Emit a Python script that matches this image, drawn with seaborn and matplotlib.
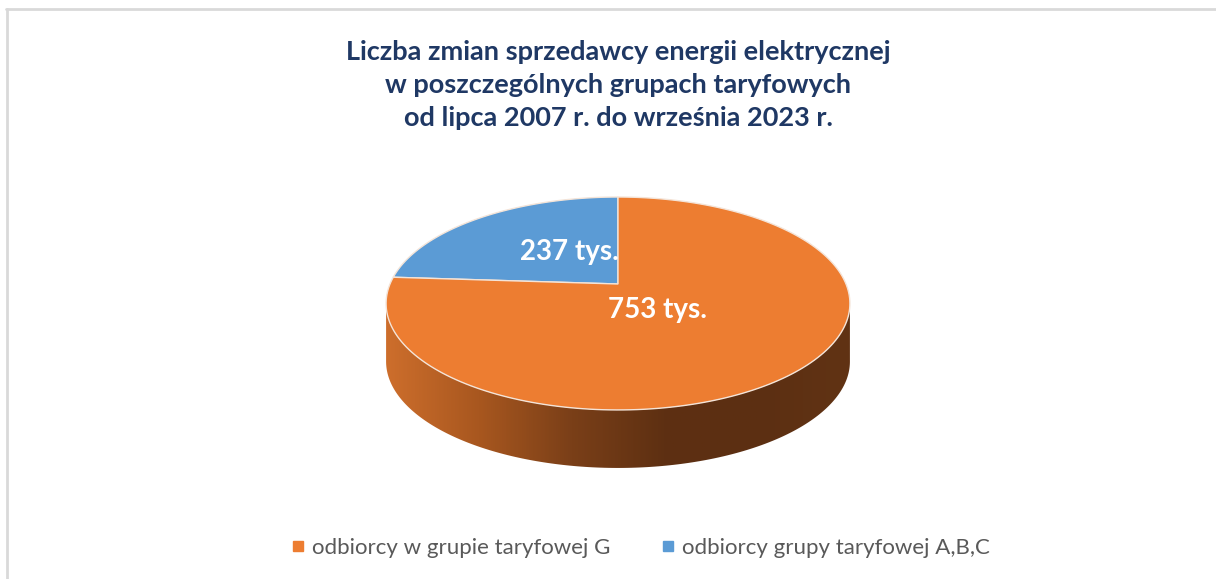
import numpy as np
import matplotlib
matplotlib.use("Agg")
import matplotlib.pyplot as plt
import seaborn as sns
from matplotlib.colors import LinearSegmentedColormap
from matplotlib.lines import Line2D
from matplotlib.patches import Polygon

sns.set_theme(style="white")
plt.rcParams['font.family'] = ['Lato', 'DejaVu Sans']

title = ("Liczba zmian sprzedawcy energii elektrycznej\n"
         "w poszczególnych grupach taryfowych\n"
         "od lipca 2007 r. do września 2023 r.")
groups = ["odbiorcy grupy taryfowej A,B,C", "odbiorcy w grupie taryfowej G"]
values = [237, 753]
labels = ["237 tys.", "753 tys."]
colors = ["#5B9BD5", "#ED7D31"]
legend_order = [1, 0]

W, H = 1216, 579
fig = plt.figure(figsize=(W / 100, H / 100), dpi=100)
fig.patch.set_facecolor("white")

# frame lines of the original chart box
fig.add_artist(Line2D([6 / W, 1], [1 - 9 / H, 1 - 9 / H], color="#d9d9d9", lw=2))
fig.add_artist(Line2D([7 / W, 7 / W], [0, 1 - 9 / H], color="#d9d9d9", lw=2))

fig.text(618 / W, 1 - 85 / H, title, ha="center", va="center", fontsize=19.5,
         fontweight="bold", color="#1F3864", linespacing=1.45)

# pie axes in pixel units, origin at the pie apex
cx, cy = 618, 284
left, right, top, bottom = 340, 900, 180, 500
ax = fig.add_axes([left / W, 1 - bottom / H, (right - left) / W, (bottom - top) / H])

# simple perspective of a tilted disc
e, A, C, depth = 0.183, 228.0, 102.9, 58.0


def project(t):
    den = 1 + e * np.sin(t)
    return np.column_stack([A * np.cos(t) / den, C * np.sin(t) / den])


# side wall with gradient
t0 = np.pi + np.arcsin(e)
t = np.linspace(t0, 3 * np.pi - t0, 200)
rim = project(t)
low = rim[::-1] - [0, depth]
side = Polygon(np.vstack([rim, low]), closed=True, facecolor="none", edgecolor="none")
ax.add_patch(side)
cmap = LinearSegmentedColormap.from_list(
    "side", ["#cd6e2c", "#a8571f", "#7a3f18", "#5e3012", "#5c2f12", "#613314"])
grad = np.linspace(0, 1, 256).reshape(1, -1)
im = ax.imshow(grad, cmap=cmap, aspect="auto",
               extent=(rim[:, 0].min(), rim[:, 0].max(), low[:, 1].min(), rim[:, 1].max()),
               zorder=1)
im.set_clip_path(side)

# top face slices
bounds = np.radians(90 + 360 * np.cumsum([0] + values) / sum(values))
for i in range(len(values)):
    arc = project(np.linspace(bounds[i], bounds[i + 1], 200))
    ax.add_patch(Polygon(np.vstack([[0, 0], arc]), closed=True, facecolor=colors[i],
                         edgecolor="#f4e4d8", linewidth=1.0, zorder=3))

# labels
pos = [(-49, 32), (39, -26)]
for lab, p in zip(labels, pos):
    ax.text(p[0], p[1], lab, ha="center", va="center", fontsize=20,
            fontweight="bold", color="white", zorder=5)

ax.set_xlim(left - cx, right - cx)
ax.set_ylim(cy - bottom, cy - top)
ax.axis("off")

handles = [Line2D([], [], marker="s", linestyle="none", markersize=7,
                  color=colors[i]) for i in legend_order]
fig.legend(handles, [groups[i] for i in legend_order], loc="center",
           bbox_to_anchor=(642 / W, 1 - 548 / H), ncol=2, frameon=False,
           fontsize=16, labelcolor="#595959", handlelength=0.35,
           handletextpad=0.45, columnspacing=2.4)

fig.savefig("out.png", dpi=100, facecolor="white")
